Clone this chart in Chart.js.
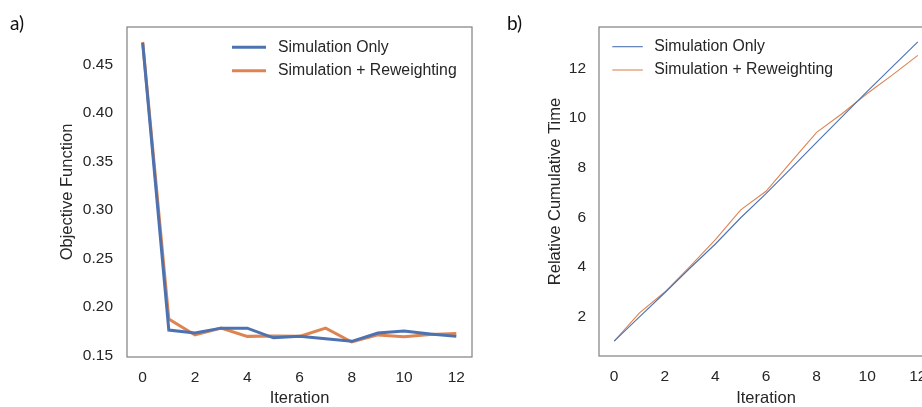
<!DOCTYPE html>
<html><head><meta charset="utf-8">
<script src="https://cdn.jsdelivr.net/npm/chart.js@4.4.0/dist/chart.umd.min.js"></script>
<style>
html,body{margin:0;padding:0;background:#fff;overflow:hidden;width:922px;height:407px;}
#wrap{position:relative;width:922px;height:407px;overflow:hidden;background:#fff;}
.pl{position:absolute;font-family:Lato,"Open Sans",sans-serif;font-size:19px;color:#111;line-height:1;}
#c1{position:absolute;left:0;top:0;}
#c2{position:absolute;left:480px;top:0;}
</style></head><body>
<div id="wrap">
<canvas id="c1" width="480" height="407" style="width:480px;height:407px"></canvas>
<canvas id="c2" width="460" height="407" style="width:460px;height:407px"></canvas>
<div class="pl" style="left:10px;top:13px">a)</div>
<div class="pl" style="left:507px;top:13px">b)</div>
</div>
<script>
// ---- data ----
const iterations = [0,1,2,3,4,5,6,7,8,9,10,11,12];
const seriesNames = ["Simulation Only", "Simulation + Reweighting"];
const objSimOnly     = [0.472, 0.176, 0.173, 0.178, 0.178, 0.168, 0.1695, 0.167, 0.1644, 0.173, 0.175, 0.172, 0.1695];
const objSimReweight = [0.473, 0.1874, 0.171, 0.178, 0.1695, 0.170, 0.1695, 0.178, 0.1637, 0.171, 0.169, 0.1715, 0.1725];
const timeSimOnly     = [1.0, 1.98, 2.95, 3.95, 4.92, 5.98, 6.95, 7.98, 9.02, 10.05, 11.08, 12.08, 13.08];
const timeSimReweight = [1.0, 2.14, 2.98, 4.02, 5.1, 6.3, 7.05, 8.25, 9.43, 10.18, 11.0, 11.75, 12.54];
const xTicks = [0,2,4,6,8,10,12];
const yTicksObj = [0.15,0.20,0.25,0.30,0.35,0.40,0.45];
const yTicksTime = [2,4,6,8,10,12];
const xTitle = "Iteration";
const yTitleObj = "Objective Function";
const yTitleTime = "Relative Cumulative Time";

const BLUE = '#4c72b0', ORANGE = '#dd8452', TXT = '#262626';
Chart.defaults.font.family = '"Liberation Sans", Arial, sans-serif';
Chart.defaults.color = TXT;

const framePlugin = {
  id: 'frameLegend',
  afterDraw(chart, args, opts) {
    const {ctx, chartArea: a} = chart;
    ctx.save();
    ctx.strokeStyle = '#858585';
    ctx.lineWidth = 1.25;
    ctx.strokeRect(a.left, a.top, a.right - a.left, a.bottom - a.top);
    const L = opts;
    chart.data.datasets.forEach((ds, i) => {
      const y = L.y + i * L.gap;
      ctx.strokeStyle = ds.borderColor;
      ctx.lineWidth = L.lineWidth;
      ctx.beginPath(); ctx.moveTo(L.x, y); ctx.lineTo(L.x + L.len, y); ctx.stroke();
      ctx.fillStyle = TXT;
      ctx.font = '15.8px "Liberation Sans", Arial, sans-serif';
      ctx.textBaseline = 'middle';
      ctx.textAlign = 'left';
      ctx.fillText(ds.label, L.x + L.len + L.textGap, y);
    });
    ctx.restore();
  }
};

function pts(ys) { return iterations.map((x, i) => ({x: x, y: ys[i]})); }
function range(arrs) {
  const all = [].concat(...arrs);
  const lo = Math.min(...all), hi = Math.max(...all), m = (hi - lo) * 0.05;
  return [lo - m, hi + m];
}

function makeChart(id, ys, yTicks, yTitle, lw, cfg) {
  const [ymin, ymax] = range(ys);
  return new Chart(document.getElementById(id), {
    type: 'line',
    data: {
      datasets: [
        {label: seriesNames[0], data: pts(ys[0]), borderColor: BLUE, borderWidth: lw, pointRadius: 0, tension: 0, fill: false},
        {label: seriesNames[1], data: pts(ys[1]), borderColor: ORANGE, borderWidth: lw, pointRadius: 0, tension: 0, fill: false}
      ]
    },
    options: {
      responsive: false, animation: false, devicePixelRatio: 1,
      layout: {padding: {top: 27, right: cfg.padRight, left: 0, bottom: 0}},
      plugins: {legend: {display: false}, tooltip: {enabled: false}, frameLegend: cfg.legend},
      scales: {
        x: {
          type: 'linear', min: -0.6, max: 12.6,
          afterBuildTicks: s => { s.ticks = xTicks.map(v => ({value: v})); },
          afterFit: s => { s.height = cfg.xH; },
          grid: {display: false, drawTicks: false}, border: {display: false},
          ticks: {padding: 11.5, font: {size: 15.5}, color: TXT, maxRotation: 0, autoSkip: false},
          title: {display: true, text: xTitle, font: {size: 16.5, lineHeight: 1}, padding: {top: 0, bottom: 0}, color: TXT}
        },
        y: {
          type: 'linear', min: ymin, max: ymax,
          afterBuildTicks: s => { s.ticks = yTicks.map(v => ({value: v})); },
          afterFit: s => { s.width = cfg.yW; },
          grid: {display: false, drawTicks: false}, border: {display: false},
          ticks: {padding: cfg.yPad, font: {size: 15.5}, color: TXT, callback: cfg.fmt},
          title: {display: true, text: yTitle, font: {size: 16.5, lineHeight: 1}, padding: {top: cfg.yTitlePad, bottom: 0}, color: TXT}
        }
      }
    },
    plugins: [framePlugin]
  });
}

makeChart('c1', [objSimOnly, objSimReweight], yTicksObj, yTitleObj, 3, {
  padRight: 8, xH: 50, yW: 127, yPad: 14, yTitlePad: 59.5,
  fmt: v => Number(v).toFixed(2),
  legend: {x: 232, y: 47.3, gap: 23.4, len: 34, textGap: 12, lineWidth: 3}
});
makeChart('c2', [timeSimOnly, timeSimReweight], yTicksTime, yTitleTime, 1.1, {
  padRight: 7, xH: 51, yW: 119, yPad: 13, yTitlePad: 67.5,
  fmt: v => String(v),
  legend: {x: 132.3, y: 46.7, gap: 23.3, len: 30.5, textGap: 11.5, lineWidth: 1.1}
});
</script>
</body></html>
